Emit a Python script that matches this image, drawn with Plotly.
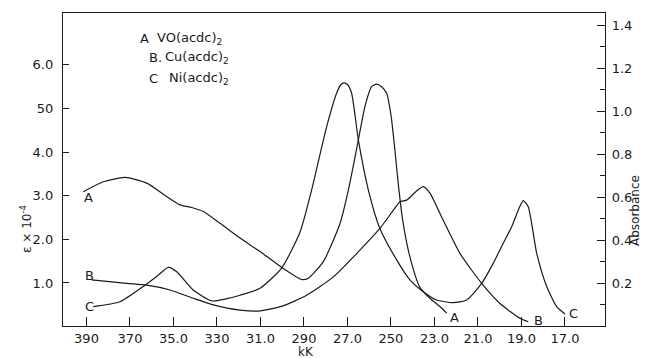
import plotly.graph_objects as go

# ---- data (x in kK, y = epsilon x 10^-4) ----
A_x = [39.15, 38.23, 37.23, 36.23, 35.31, 34.70, 34.16, 33.63, 32.86, 31.94, 31.02, 30.03,
       29.11, 28.80, 28.11, 27.34, 26.96, 26.50, 26.20, 25.89, 25.66, 25.43, 25.20, 25.00,
       24.82, 24.66, 24.45, 24.13, 23.67, 23.21, 22.75, 22.44]
A_eps = [3.09, 3.32, 3.42, 3.29, 2.98, 2.79, 2.73, 2.64, 2.37, 2.03, 1.72, 1.36,
         1.08, 1.11, 1.49, 2.37, 3.13, 4.28, 5.04, 5.50, 5.56, 5.50, 5.35, 4.85,
         4.05, 3.25, 2.40, 1.60, 0.90, 0.65, 0.46, 0.31]

B_x = [38.76, 37.15, 36.23, 35.16, 34.09, 33.17, 31.94, 31.02, 30.00, 28.88, 27.65, 26.57,
       25.51, 24.89, 24.59, 24.28, 23.80, 23.52, 23.21, 22.60, 21.83, 20.83, 19.99, 19.07, 18.69]
B_eps = [1.07, 0.99, 0.95, 0.84, 0.65, 0.50, 0.38, 0.36, 0.47, 0.72, 1.14, 1.68,
         2.25, 2.67, 2.86, 2.90, 3.12, 3.21, 3.06, 2.44, 1.68, 0.99, 0.53, 0.19, 0.11]

C_x = [38.69, 37.46, 36.39, 35.70, 35.24, 34.85, 34.09, 33.24, 32.55, 31.94, 31.02, 30.03,
       29.18, 28.65, 27.96, 27.50, 27.30, 27.16, 27.00, 26.81, 26.50, 26.04, 25.51, 24.74,
       24.13, 23.52, 22.90, 22.14, 21.52, 20.83, 20.30, 19.84, 19.45, 19.15, 18.92, 18.69,
       18.30, 17.84, 17.38, 17.00]
C_eps = [0.46, 0.57, 0.92, 1.18, 1.36, 1.26, 0.84, 0.59, 0.64, 0.72, 0.88, 1.34,
         2.17, 3.13, 4.58, 5.35, 5.55, 5.59, 5.55, 5.35, 4.28, 3.13, 2.25, 1.53,
         1.07, 0.80, 0.61, 0.55, 0.61, 0.99, 1.45, 1.91, 2.29, 2.67, 2.89, 2.75,
         1.68, 0.92, 0.46, 0.29]

x_tick_vals = [39, 37, 35, 33, 31, 29, 27, 25, 23, 21, 19, 17]
x_tick_text = ["390", "370", "35.0", "330", "31.0", "290", "27.0", "250", "23.0", "21.0", "19.0", "17.0"]
y_tick_vals = [1, 2, 3, 4, 5, 6]
y_tick_text = ["1.0", "2.0", "3.0", "4.0", "50", "6.0"]
abs_tick_vals = [0.2, 0.4, 0.6, 0.8, 1.0, 1.2, 1.4]
abs_tick_text = ["0.2", "0.4", "0.6", "0.8", "1.0", "1.2", "1.4"]
abs_minor_vals = [0.1, 0.3, 0.5, 0.7, 0.9, 1.1, 1.3]

series_letters = ["A", "B.", "C"]
series_formula = ["VO(acdc)<sub>2</sub>", "Cu(acdc)<sub>2</sub>", "Ni(acdc)<sub>2</sub>"]

INK = "#1a1a1a"
FONT = "DejaVu Sans"

fig = go.Figure()
for xs, ys in [(A_x, A_eps), (B_x, B_eps), (C_x, C_eps)]:
    fig.add_trace(go.Scatter(x=xs, y=ys, mode="lines",
                             line=dict(color=INK, width=1.2, shape="spline", smoothing=0.6),
                             showlegend=False, hoverinfo="skip"))
# dummy trace to anchor the absorbance axis
fig.add_trace(go.Scatter(x=[None], y=[None], yaxis="y2", showlegend=False, hoverinfo="skip"))

# page has an 8px body margin; figure is sized to fill the rest of the window
OFF = 8
W, H = 650 - OFF, 358 - OFF
PL, PR, PT, PB = 63, 605, 13, 326          # plot area in page pixels
L, R, T, B = PL - OFF, OFF + W - PR, PT - OFF, OFF + H - PB
pw, ph = PR - PL, PB - PT

def px(xp):
    return (xp - PL) / pw

def py(yp):
    return (PB - yp) / ph

ann = []
leg_letter_x = [138, 147, 147]
leg_formula_x = [155, 163, 167]
leg_y = [38, 58, 78]
for i in range(3):
    ann.append(dict(x=px(leg_letter_x[i]), y=py(leg_y[i]), xref="paper", yref="paper",
                    text=series_letters[i], showarrow=False, xanchor="left", yanchor="middle",
                    font=dict(family=FONT, size=13, color=INK)))
    ann.append(dict(x=px(leg_formula_x[i]), y=py(leg_y[i]), xref="paper", yref="paper",
                    text=series_formula[i], showarrow=False, xanchor="left", yanchor="middle",
                    font=dict(family=FONT, size=13, color=INK)))

end_labels = [("A", 38.93, 2.95), ("B", 38.84, 1.18), ("C", 38.88, 0.47),
              ("A", 22.06, 0.22), ("B", 18.24, 0.15), ("C", 16.63, 0.29)]
for t, xv, yv in end_labels:
    ann.append(dict(x=xv, y=yv, xref="x", yref="y", text=t, showarrow=False,
                    xanchor="center", yanchor="middle",
                    font=dict(family=FONT, size=13, color=INK)))

ann.append(dict(x=px(306), y=py(352), xref="paper", yref="paper", text="kK", showarrow=False,
                xanchor="center", yanchor="middle",
                font=dict(family=FONT, size=12, color=INK)))
ann.append(dict(x=px(26), y=py(229), xref="paper", yref="paper", text="\u03b5 \u00d7 10<sup>-4</sup>",
                showarrow=False, textangle=-90, xanchor="center", yanchor="middle",
                font=dict(family=FONT, size=12, color=INK)))
ann.append(dict(x=px(635), y=py(211), xref="paper", yref="paper", text="Absorbance",
                showarrow=False, textangle=-90, xanchor="center", yanchor="middle",
                font=dict(family=FONT, size=12, color=INK)))

fig.update_layout(
    width=W, height=H,
    margin=dict(l=L, r=R, t=T, b=B, autoexpand=False),
    paper_bgcolor="white", plot_bgcolor="white",
    font=dict(family=FONT, size=13, color=INK),
    xaxis=dict(range=[40.08, 15.16], tickvals=x_tick_vals, ticktext=x_tick_text,
               ticks="inside", ticklen=9, tickwidth=1.2, tickcolor=INK,
               showline=True, linecolor=INK, linewidth=1.3, mirror=True,
               showgrid=False, zeroline=False, tickfont=dict(size=13)),
    yaxis=dict(range=[0.014, 7.19], tickvals=y_tick_vals, ticktext=y_tick_text,
               ticks="inside", ticklen=6, tickwidth=1.2, tickcolor=INK,
               showline=True, linecolor=INK, linewidth=1.3,
               showgrid=False, zeroline=False, ticklabelstandoff=6, tickfont=dict(size=13)),
    yaxis2=dict(overlaying="y", side="right", range=[0, 1.456],
                tickvals=abs_tick_vals, ticktext=abs_tick_text,
                ticks="inside", ticklen=8, tickwidth=1.2, tickcolor=INK,
                minor=dict(tickvals=abs_minor_vals, ticks="inside", ticklen=5, tickcolor=INK),
                showline=True, linecolor=INK, linewidth=1.2,
                showgrid=False, zeroline=False, ticklabelstandoff=3, tickfont=dict(size=13)),
    annotations=ann,
)

fig.write_html("out.html")
